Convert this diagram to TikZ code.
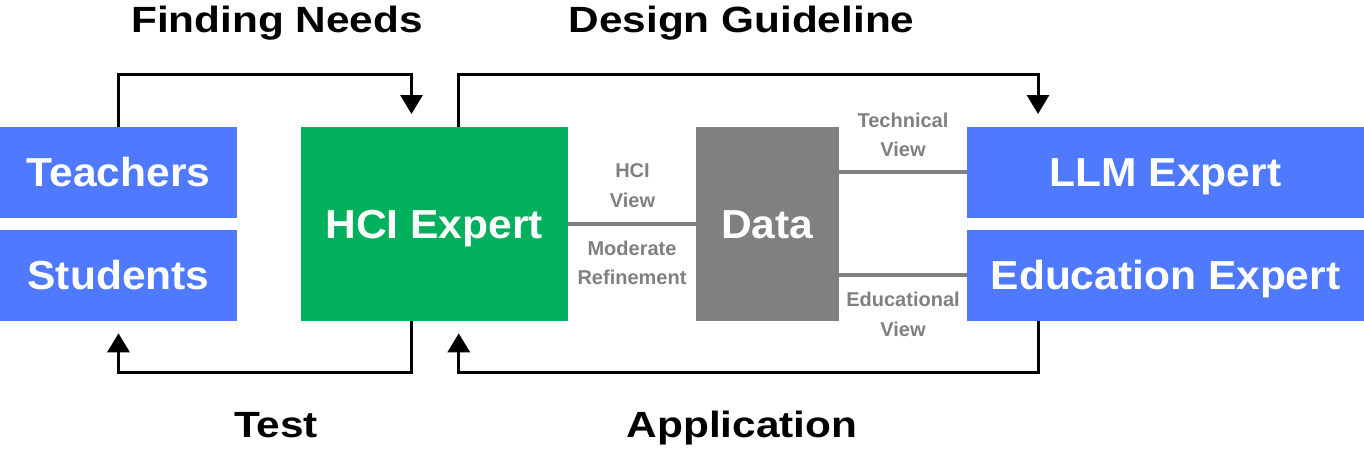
\documentclass[tikz,border=0pt]{standalone}
\usepackage{fontspec}
\setmainfont{Liberation Sans}
\newfontfamily\boxfont[FakeStretch=1.05]{Liberation Sans}
\newfontfamily\titlefont[FakeStretch=1.16]{Liberation Sans}
\usetikzlibrary{arrows.meta}
\definecolor{cblue}{HTML}{4F79FF}
\definecolor{cgreen}{HTML}{00B05C}
\definecolor{cgray}{HTML}{808080}
\begin{document}
\begin{tikzpicture}[x=1pt,y=-1pt,
  box/.style={inner sep=0pt, outer sep=0pt, text=white,
    font={\boxfont\bfseries\fontsize{40.5}{48}\selectfont},
    text height=29pt, text depth=0pt},
  bluebox/.style={box, fill=cblue},
  title/.style={anchor=base, inner sep=0pt, text=black,
    font={\titlefont\bfseries\fontsize{36.5}{44}\selectfont}},
  lbl/.style={inner sep=0pt, align=center, text=cgray,
    font={\bfseries\fontsize{20}{29.5}\selectfont}},
  arr/.style={draw=black, line width=3pt, -{Triangle[width=22pt,length=19pt]}},
  gl/.style={draw=cgray, line width=4pt}]
\useasboundingbox (0,0) rectangle (1364,451);

% boxes
\node[bluebox, minimum width=237pt, minimum height=90.5pt] (teachers) at (118.5,172.25) {Teachers};
\node[bluebox, minimum width=237pt, minimum height=90.5pt] (students) at (118.5,275.25) {Students};
\node[box, fill=cgreen, minimum width=266.5pt, minimum height=193.5pt] (hci) at (434.25,223.75) {HCI Expert};
\node[box, fill=cgray, minimum width=142.5pt, minimum height=193.5pt] (data) at (767.25,223.75) {Data};
\node[bluebox, minimum width=397pt, minimum height=90.5pt] (llm) at (1165.5,172.25) {LLM Expert};
\node[bluebox, minimum width=397pt, minimum height=90.5pt] (edu) at (1165.5,275.25) {Education Expert};

% gray connectors
\draw[gl] (hci) -- (data);
\draw[gl] (data.east |- llm) -- (llm.west);
\draw[gl] (data.east |- edu) -- (edu.west);

% gray labels
\node[lbl] (lhci) at (632.5,185.5) {HCI\\View};
\node[lbl] (lmod) at (632,262.7) {Moderate\\Refinement};
\node[lbl] (ltech) at (903,135) {Technical\\View};
\node[lbl] (ledu) at (903,314.5) {Educational\\View};

% loop arrows
\coordinate (fnEnd) at (411.5,114);
\coordinate (dgEnd) at (1038,114);
\coordinate (testEnd) at (118.5,333.3);
\coordinate (apEnd) at (458.75,333.3);
\draw[arr] (teachers.north) -- ++(0,-52.2) -| (fnEnd);
\draw[arr] ([xshift=24.5pt]hci.north) -- ++(0,-52.2) -| (dgEnd);
\draw[arr] ([xshift=-22.75pt]hci.south) -- ++(0,52.2) -| (testEnd);
\draw[arr] ([xshift=-127.5pt]edu.south) -- ++(0,52.2) -| (apEnd);

% titles
\node[title] (tfind) at (277,32.5) {Finding Needs};
\node[title] (tdesign) at (741.5,32.5) {Design Guideline};
\node[title] (ttest) at (276,437.7) {Test};
\node[title] (tapp) at (742,437.7) {Application};
\end{tikzpicture}
\end{document}
